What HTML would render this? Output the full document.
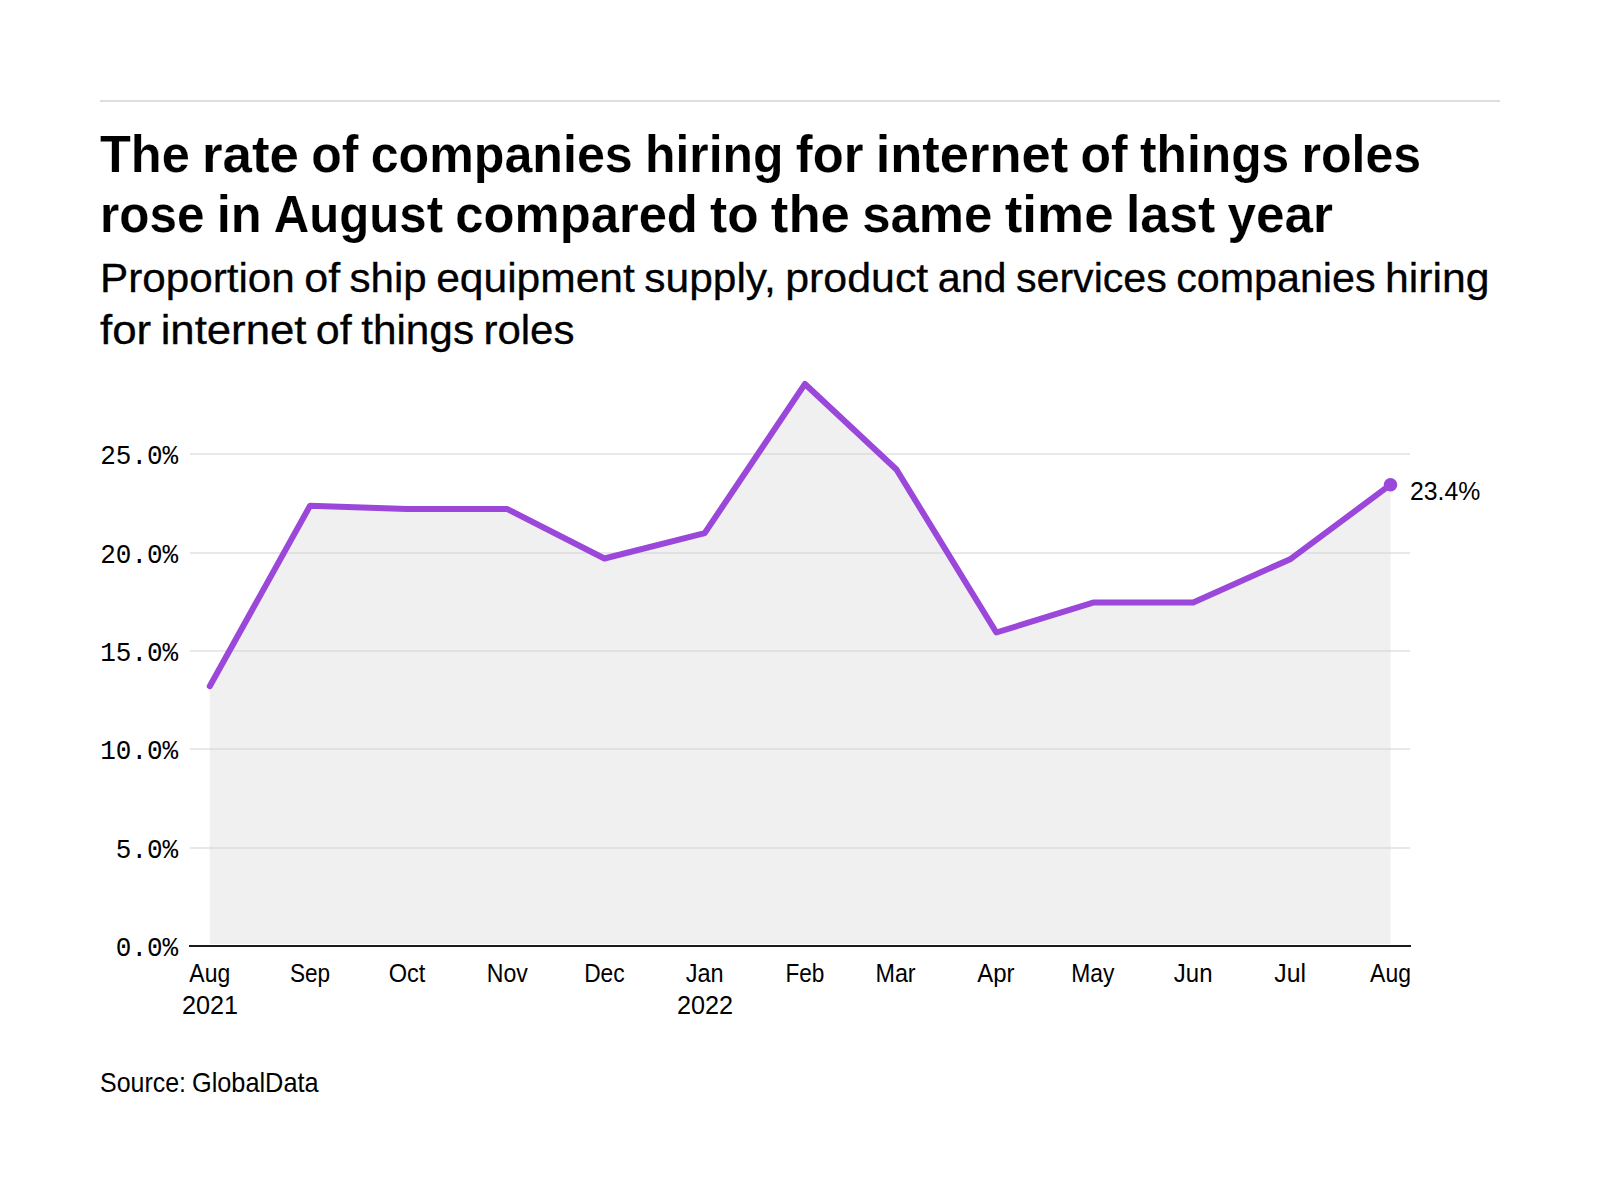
<!DOCTYPE html>
<html lang="en"><head><meta charset="utf-8"><title>Internet of things hiring chart</title>
<style>
html,body{margin:0;padding:0;background:#fff;}
body{width:1600px;height:1200px;overflow:hidden;}
svg{display:block;}
text{font-family:"Liberation Sans",sans-serif;fill:#000;}
.mono{font-family:"Liberation Mono",monospace;}
</style></head><body>
<svg width="1600" height="1200" viewBox="0 0 1600 1200">
<rect width="1600" height="1200" fill="#fff"/>
<rect x="100" y="100" width="1400" height="2" fill="#dedede"/>
<path d="M209.75,686.22 L310.03,505.76 L407.08,509.10 L507.36,509.10 L604.41,558.50 L704.69,533.11 L804.98,383.94 L896.46,469.55 L996.34,632.50 L1093.89,602.39 L1193.17,602.39 L1290.72,558.89 L1390.50,484.70 L1390.50,944 L209.75,944 Z" fill="#f0f0f0"/>
<rect x="190" y="453" width="1220" height="2" fill="#d2d2d2" fill-opacity="0.5"/>
<rect x="190" y="552" width="1220" height="2" fill="#d2d2d2" fill-opacity="0.5"/>
<rect x="190" y="650" width="1220" height="2" fill="#d2d2d2" fill-opacity="0.5"/>
<rect x="190" y="748" width="1220" height="2" fill="#d2d2d2" fill-opacity="0.5"/>
<rect x="190" y="847" width="1220" height="2" fill="#d2d2d2" fill-opacity="0.5"/>
<rect x="189" y="945" width="1222" height="2" fill="#1b1b1b"/>
<path d="M209.75,686.22 L310.03,505.76 L407.08,509.10 L507.36,509.10 L604.41,558.50 L704.69,533.11 L804.98,383.94 L896.46,469.55 L996.34,632.50 L1093.89,602.39 L1193.17,602.39 L1290.72,558.89 L1390.50,484.70" fill="none" stroke="#9a47da" stroke-width="6" stroke-linecap="round" stroke-linejoin="round"/>
<circle cx="1390.50" cy="484.70" r="6.8" fill="#9a47da"/>
<text id="t1" y="172" font-size="52" font-weight="bold" stroke="#fff" stroke-width="0.18"><tspan x="100.00" textLength="89.77" lengthAdjust="spacingAndGlyphs">The</tspan> <tspan x="202.02" textLength="96.98" lengthAdjust="spacingAndGlyphs">rate</tspan> <tspan x="311.25" textLength="47.19" lengthAdjust="spacingAndGlyphs">of</tspan> <tspan x="370.69" textLength="261.98" lengthAdjust="spacingAndGlyphs">companies</tspan> <tspan x="644.92" textLength="138.55" lengthAdjust="spacingAndGlyphs">hiring</tspan> <tspan x="795.72" textLength="67.72" lengthAdjust="spacingAndGlyphs">for</tspan> <tspan x="875.70" textLength="192.62" lengthAdjust="spacingAndGlyphs">internet</tspan> <tspan x="1080.58" textLength="47.19" lengthAdjust="spacingAndGlyphs">of</tspan> <tspan x="1140.02" textLength="149.20" lengthAdjust="spacingAndGlyphs">things</tspan> <tspan x="1301.47" textLength="119.72" lengthAdjust="spacingAndGlyphs">roles</tspan></text>
<text id="t2" y="232" font-size="52" font-weight="bold" stroke="#fff" stroke-width="0.18"><tspan x="100.00" textLength="104.42" lengthAdjust="spacingAndGlyphs">rose</tspan> <tspan x="216.69" textLength="44.89" lengthAdjust="spacingAndGlyphs">in</tspan> <tspan x="273.83" textLength="169.23" lengthAdjust="spacingAndGlyphs">August</tspan> <tspan x="455.33" textLength="242.53" lengthAdjust="spacingAndGlyphs">compared</tspan> <tspan x="710.11" textLength="48.53" lengthAdjust="spacingAndGlyphs">to</tspan> <tspan x="770.89" textLength="79.06" lengthAdjust="spacingAndGlyphs">the</tspan> <tspan x="862.20" textLength="130.23" lengthAdjust="spacingAndGlyphs">same</tspan> <tspan x="1004.69" textLength="108.95" lengthAdjust="spacingAndGlyphs">time</tspan> <tspan x="1125.91" textLength="89.36" lengthAdjust="spacingAndGlyphs">last</tspan> <tspan x="1227.53" textLength="105.41" lengthAdjust="spacingAndGlyphs">year</tspan></text>
<text id="s1" y="292" font-size="40" stroke="#000" stroke-width="0.3"><tspan x="100.00" textLength="194.81" lengthAdjust="spacingAndGlyphs">Proportion</tspan> <tspan x="304.23" textLength="35.86" lengthAdjust="spacingAndGlyphs">of</tspan> <tspan x="349.52" textLength="77.25" lengthAdjust="spacingAndGlyphs">ship</tspan> <tspan x="436.19" textLength="198.66" lengthAdjust="spacingAndGlyphs">equipment</tspan> <tspan x="644.27" textLength="131.45" lengthAdjust="spacingAndGlyphs">supply,</tspan> <tspan x="785.16" textLength="143.12" lengthAdjust="spacingAndGlyphs">product</tspan> <tspan x="937.70" textLength="68.86" lengthAdjust="spacingAndGlyphs">and</tspan> <tspan x="1015.98" textLength="150.83" lengthAdjust="spacingAndGlyphs">services</tspan> <tspan x="1176.23" textLength="199.31" lengthAdjust="spacingAndGlyphs">companies</tspan> <tspan x="1384.97" textLength="104.45" lengthAdjust="spacingAndGlyphs">hiring</tspan></text>
<text id="s2" y="344" font-size="40" stroke="#000" stroke-width="0.3"><tspan x="100.00" textLength="51.25" lengthAdjust="spacingAndGlyphs">for</tspan> <tspan x="160.67" textLength="145.78" lengthAdjust="spacingAndGlyphs">internet</tspan> <tspan x="315.88" textLength="35.86" lengthAdjust="spacingAndGlyphs">of</tspan> <tspan x="361.16" textLength="112.89" lengthAdjust="spacingAndGlyphs">things</tspan> <tspan x="483.47" textLength="90.98" lengthAdjust="spacingAndGlyphs">roles</tspan></text>
<text id="y0" y="464.3" font-size="26" class="mono" transform="matrix(1 0 0 1.09 0 -41.787)" x="178.2" text-anchor="end">25.0%</text>
<text id="y1" y="563.3" font-size="26" class="mono" transform="matrix(1 0 0 1.09 0 -50.697)" x="178.2" text-anchor="end">20.0%</text>
<text id="y2" y="661.3" font-size="26" class="mono" transform="matrix(1 0 0 1.09 0 -59.517)" x="178.2" text-anchor="end">15.0%</text>
<text id="y3" y="759.3" font-size="26" class="mono" transform="matrix(1 0 0 1.09 0 -68.337)" x="178.2" text-anchor="end">10.0%</text>
<text id="y4" y="858.3" font-size="26" class="mono" transform="matrix(1 0 0 1.09 0 -77.247)" x="178.2" text-anchor="end">5.0%</text>
<text id="y5" y="956.3" font-size="26" class="mono" transform="matrix(1 0 0 1.09 0 -86.067)" x="178.2" text-anchor="end">0.0%</text>
<text id="m0" y="982" font-size="26" x="189.35" textLength="40.80" lengthAdjust="spacingAndGlyphs">Aug</text>
<text id="m1" y="982" font-size="26" x="289.95" textLength="40.16" lengthAdjust="spacingAndGlyphs">Sep</text>
<text id="m2" y="982" font-size="26" x="388.74" textLength="36.67" lengthAdjust="spacingAndGlyphs">Oct</text>
<text id="m3" y="982" font-size="26" x="486.81" textLength="41.09" lengthAdjust="spacingAndGlyphs">Nov</text>
<text id="m4" y="982" font-size="26" x="584.18" textLength="40.47" lengthAdjust="spacingAndGlyphs">Dec</text>
<text id="m5" y="982" font-size="26" x="685.73" textLength="37.92" lengthAdjust="spacingAndGlyphs">Jan</text>
<text id="m6" y="982" font-size="26" x="785.50" textLength="38.95" lengthAdjust="spacingAndGlyphs">Feb</text>
<text id="m7" y="982" font-size="26" x="875.47" textLength="40.17" lengthAdjust="spacingAndGlyphs">Mar</text>
<text id="m8" y="982" font-size="26" x="977.18" textLength="37.31" lengthAdjust="spacingAndGlyphs">Apr</text>
<text id="m9" y="982" font-size="26" x="1071.34" textLength="43.11" lengthAdjust="spacingAndGlyphs">May</text>
<text id="m10" y="982" font-size="26" x="1173.82" textLength="38.70" lengthAdjust="spacingAndGlyphs">Jun</text>
<text id="m11" y="982" font-size="26" x="1274.33" textLength="31.78" lengthAdjust="spacingAndGlyphs">Jul</text>
<text id="m12" y="982" font-size="26" x="1370.10" textLength="40.80" lengthAdjust="spacingAndGlyphs">Aug</text>
<text id="yr0" y="1014" font-size="26" x="181.91" textLength="56.17" lengthAdjust="spacingAndGlyphs">2021</text>
<text id="yr1" y="1014" font-size="26" x="676.91" textLength="56.17" lengthAdjust="spacingAndGlyphs">2022</text>
<text id="end" y="500" font-size="26" x="1410.00" textLength="70.34" lengthAdjust="spacingAndGlyphs">23.4%</text>
<text id="src" y="1091.6" font-size="28"><tspan x="100.00" textLength="86.03" lengthAdjust="spacingAndGlyphs">Source:</tspan> <tspan x="191.94" textLength="126.64" lengthAdjust="spacingAndGlyphs">GlobalData</tspan></text>
</svg>
</body></html>
